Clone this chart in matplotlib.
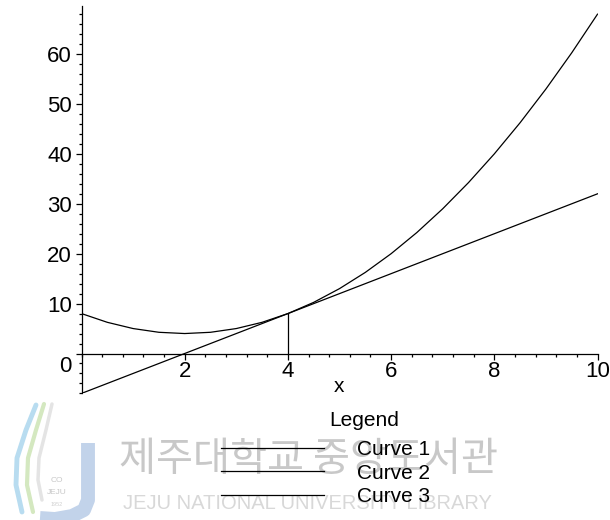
import matplotlib
matplotlib.use("Agg")
import matplotlib.pyplot as plt
from matplotlib.ticker import MultipleLocator, FixedLocator
import matplotlib.transforms as mtransforms

# ---- data ----
curve1_x = [0, 0.5, 1, 1.5, 2, 2.5, 3, 3.5, 4, 4.5, 5, 5.5, 6, 6.5, 7, 7.5, 8, 8.5, 9, 9.5, 10]
curve1_y = [8, 6.25, 5, 4.25, 4, 4.25, 5, 6.25, 8, 10.25, 13, 16.25, 20, 24.25, 29, 34.25, 40, 46.25, 53, 60.25, 68]
curve2_x = [0, 10]
curve2_y = [-8, 32]
curve3_x = [4, 4]
curve3_y = [0, 8]
xtick_values = [2, 4, 6, 8, 10]
ytick_values = [0, 10, 20, 30, 40, 50, 60]
legend_labels = ["Curve 1", "Curve 2", "Curve 3"]
legend_title = "Legend"
x_label = "x"
watermark_kr = "제주대학교 중앙도서관"
watermark_en = "JEJU NATIONAL UNIVERSITY LIBRARY"

W, H = 610, 520
plt.rcParams['font.family'] = ['Liberation Sans', 'DejaVu Sans']

fig = plt.figure(figsize=(W / 100, H / 100), dpi=100)


def fx(px):
    return px / W


def fy(py):
    return 1 - py / H


# ---- watermark (behind everything) ----
wm_ax = fig.add_axes([0, 0, 1, 1], zorder=0)
wm_ax.set_xlim(0, W)
wm_ax.set_ylim(H, 0)
wm_ax.axis('off')
# logo swooshes
wm_ax.plot([36, 26, 17, 16, 22], [405, 430, 458, 485, 512], color='#b8dcf0', lw=3.5, solid_capstyle='round')
wm_ax.plot([44, 36, 28, 27, 33], [404, 430, 458, 485, 512], color='#d4e8c0', lw=3, solid_capstyle='round')
wm_ax.plot([52, 46, 39, 38, 42], [404, 430, 458, 480, 500], color='#e4e4e4', lw=2.5, solid_capstyle='round')
# logo "J"
wm_ax.plot([88, 88, 84, 72, 55, 40], [443, 500, 510, 516, 519, 518], color='#c2d3ea', lw=10, solid_capstyle='butt')
wm_ax.text(57, 481, "CO", fontsize=6, color='#c8c8c8', ha='center', va='center')
wm_ax.text(57, 493, "JEJU", fontsize=6, color='#c8c8c8', ha='center', va='center')
wm_ax.text(57, 505, "1952", fontsize=4, color='#d0d0d0', ha='center', va='center')
wm_ax.text(119, 460, watermark_kr, fontsize=29, color='#c8c8c8', ha='left', va='center',
           family=['Noto Sans CJK KR', 'DejaVu Sans'])
wm_ax.text(123, 509, watermark_en, fontsize=14.5, color='#d8d8d8', ha='left', va='baseline')

# ---- main axes ----
left, right = 81.5, 597.5
ymin, ymax = -8, 69.6
y0_px, ppu = 353.5, 4.99
top_px = y0_px - ymax * ppu
bot_px = y0_px - ymin * ppu
ax = fig.add_axes([fx(left), fy(bot_px), (right - left) / W, (bot_px - top_px) / H], zorder=1)
ax.patch.set_alpha(0)
ax.set_xlim(0, 10)
ax.set_ylim(ymin, ymax)

lw = 0.9
ax.plot(curve1_x, curve1_y, color='black', lw=lw, label=legend_labels[0])
ax.plot(curve2_x, curve2_y, color='black', lw=lw, label=legend_labels[1])
ax.plot(curve3_x, curve3_y, color='black', lw=lw, label=legend_labels[2])

for s in ['top', 'right']:
    ax.spines[s].set_visible(False)
ax.spines['bottom'].set_position(('data', 0))
ax.spines['left'].set_position(('data', 0))
for s in ['bottom', 'left']:
    ax.spines[s].set_linewidth(lw)

ax.xaxis.set_major_locator(FixedLocator(xtick_values))
ax.xaxis.set_minor_locator(MultipleLocator(0.4))
ax.yaxis.set_major_locator(FixedLocator(ytick_values))
ax.yaxis.set_minor_locator(MultipleLocator(2))
ax.tick_params(axis='both', which='major', direction='out', length=4.5, width=lw, labelsize=16, color='black')
ax.tick_params(axis='both', which='minor', direction='out', length=2.2, width=lw, color='black')
ax.tick_params(axis='x', which='major', pad=1)
ax.tick_params(axis='y', which='major', pad=2.5)
ax.set_xticklabels([str(v) for v in xtick_values])
ax.set_yticklabels([str(v) for v in ytick_values])

fig.canvas.draw()
# move the "0" label down as in the reference
lab0 = ax.get_yticklabels()[0]
lab0.set_transform(lab0.get_transform() + mtransforms.ScaledTranslation(0, -11 / 100, fig.dpi_scale_trans))

# x label
fig.text(fx(339.5), fy(387), x_label, fontsize=15, ha='center', va='center')

# legend
fig.text(fx(364.5), fy(420), legend_title, fontsize=15, ha='center', va='center')
handles = ax.get_lines()
leg = ax.legend(handles, legend_labels, loc='upper left', bbox_to_anchor=(fx(221), fy(440)),
                bbox_transform=fig.transFigure, frameon=False, fontsize=15,
                handlelength=4.94, handletextpad=1.58, labelspacing=0.22,
                borderpad=0, borderaxespad=0)

fig.savefig("out.png", dpi=100)
